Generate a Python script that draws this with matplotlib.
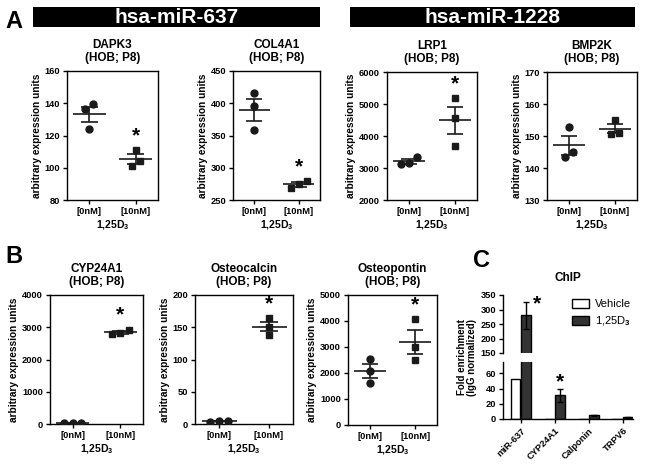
import numpy as np
import matplotlib
matplotlib.use('Agg')
import matplotlib.pyplot as plt
from matplotlib.patches import Rectangle

plt.rcParams['font.family'] = ['Liberation Sans', 'DejaVu Sans']
plt.rcParams['font.weight'] = 'bold'
plt.rcParams['axes.labelweight'] = 'bold'
plt.rcParams['axes.titleweight'] = 'bold'
plt.rcParams['axes.linewidth'] = 1.0
plt.rcParams['mathtext.fontset'] = 'custom'
plt.rcParams['mathtext.rm'] = 'Liberation Sans'
plt.rcParams['mathtext.bf'] = 'Liberation Sans:bold'

W, H = 645, 468

# x categories for the scatter panels
doses = ['[0nM]', '[10nM]']

# values (3 replicates each)
dapk3_0 = [139.3, 136.2, 124.0]
dapk3_10 = [111.0, 104.0, 101.0]
col4a1_0 = [416.0, 396.0, 358.0]
col4a1_10 = [280.0, 275.0, 268.0]
lrp1_0 = [3350.0, 3150.0, 3120.0]
lrp1_10 = [5190.0, 4570.0, 3700.0]
bmp2k_0 = [152.8, 145.0, 143.4]
bmp2k_10 = [155.1, 151.0, 150.7]
cyp24a1_0 = [22.0, 25.0, 20.0]
cyp24a1_10 = [2930.0, 2810.0, 2785.0]
osteocalcin_0 = [4.0, 4.2, 3.8]
osteocalcin_10 = [164.0, 151.0, 138.0]
osteopontin_0 = [2526.0, 2090.0, 1603.0]
osteopontin_10 = [4064.0, 3013.0, 2500.0]

# ChIP panel
chip_targets = ['miR-637', 'CYP24A1', 'Calponin', 'TRPV6']
chip_vehicle = [53.0, 0.4, 0.3, 0.3]
chip_d3 = [280.0, 31.0, 5.0, 2.0]
chip_d3_err = [46.0, 8.0, 0.4, 0.3]

fig = plt.figure(figsize=(W / 100, H / 100), dpi=100)
ink = '#1a1a1a'


def ax_px(l, t, r, b):
    return fig.add_axes([l / W, 1 - b / H, (r - l) / W, (b - t) / H])


def dodge(vals, span, step=0.18):
    # spread points that would sit on top of each other
    vals = np.asarray(vals)
    order = np.argsort(vals)
    clusters = [[order[0]]]
    for k in order[1:]:
        if abs(vals[k] - vals[clusters[-1][-1]]) < 0.06 * span:
            clusters[-1].append(k)
        else:
            clusters.append([k])
    offs = np.zeros(len(vals))
    for c in clusters:
        n = len(c)
        offs[c] = (np.arange(n) - (n - 1) / 2) * step
    return offs


def scatter_panel(box, title, d0, d10, ylim, step, star=True):
    ax = ax_px(*box)
    span = ylim[1] - ylim[0]
    for xi, vals, mk in [(0, d0, 'o'), (1, d10, 's')]:
        vals = np.asarray(vals)
        xs = xi + dodge(vals, span)
        ax.plot(xs, vals, linestyle='none', marker=mk, ms=5, color=ink, zorder=3)
        m = vals.mean()
        sem = vals.std(ddof=1) / np.sqrt(len(vals))
        ax.hlines(m, xi - 0.35, xi + 0.35, color=ink, lw=1.2, zorder=2)
        ax.vlines(xi, m - sem, m + sem, color=ink, lw=1.2, zorder=2)
        ax.hlines([m - sem, m + sem], xi - 0.18, xi + 0.18, color=ink, lw=1.2, zorder=2)
    if star:
        ax.text(1, max(d10) + 0.11 * span, '*', ha='center', va='center', fontsize=15)
    ax.set_xlim(-0.48, 1.48)
    ax.set_ylim(*ylim)
    ax.set_yticks(np.arange(ylim[0], ylim[1] + step / 2, step))
    ax.set_xticks([0, 1])
    ax.set_xticklabels(doses)
    ax.tick_params(labelsize=6.7, length=3, width=1, pad=2)
    ax.set_xlabel('1,25D$_\\mathbf{3}$', fontsize=7.5, labelpad=2)
    ax.set_ylabel('arbitrary expression units', fontsize=7.3, labelpad=2)
    ax.set_title(title + '\n(HOB; P8)', fontsize=8.5, pad=7, linespacing=1.15)
    return ax


scatter_panel((67, 71, 158, 200), 'DAPK3', dapk3_0, dapk3_10, (80, 160), 20)
scatter_panel((233, 71, 320, 200), 'COL4A1', col4a1_0, col4a1_10, (250, 450), 50)
scatter_panel((387, 72, 477, 200), 'LRP1', lrp1_0, lrp1_10, (2000, 6000), 1000)
scatter_panel((547, 72, 637, 200), 'BMP2K', bmp2k_0, bmp2k_10, (130, 170), 10, star=False)
scatter_panel((50, 295, 143, 424), 'CYP24A1', cyp24a1_0, cyp24a1_10, (0, 4000), 1000)
scatter_panel((195, 295, 293, 424), 'Osteocalcin', osteocalcin_0, osteocalcin_10, (0, 200), 50)
scatter_panel((348, 295, 437, 425), 'Osteopontin', osteopontin_0, osteopontin_10, (0, 5000), 1000)

# banners
for l, r, txt in [(33, 320, 'hsa-miR-637'), (350, 635, 'hsa-miR-1228')]:
    fig.patches.append(Rectangle((l / W, 1 - 27 / H), (r - l) / W, 20 / H,
                                 transform=fig.transFigure, facecolor='black', edgecolor='none'))
    fig.text((l + r) / 2 / W, 1 - 17.5 / H, txt, color='white', fontsize=15,
             ha='center', va='center')

fig.text(5 / W, 1 - 28 / H, 'A', fontsize=17, va='baseline')
fig.text(5 / W, 1 - 263 / H, 'B', fontsize=17, va='baseline')
fig.text(473 / W, 1 - 267 / H, 'C', fontsize=17, va='baseline')

# ChIP broken-axis bar chart
ax_top = ax_px(503, 295, 633, 353)
ax_bot = ax_px(503, 362, 633, 419)
x = np.arange(len(chip_targets))
bw = 0.29
for ax in (ax_top, ax_bot):
    ax.bar(x - 0.16, chip_vehicle, bw, color='white', edgecolor='black', lw=1, label='Vehicle')
    ax.bar(x + 0.16, chip_d3, bw, color='#333333', edgecolor='black', lw=1, label='1,25D$_3$',
           yerr=chip_d3_err, error_kw=dict(ecolor='black', elinewidth=1, capsize=2.5, capthick=1))
    ax.set_xlim(-0.53, 3.3)
    for s in ['top', 'right']:
        ax.spines[s].set_visible(False)
    ax.tick_params(labelsize=6.7, length=3, width=1, pad=2)
ax_top.set_ylim(150, 350)
ax_top.set_yticks(np.arange(150, 351, 50))
ax_top.spines['bottom'].set_visible(False)
ax_top.set_xticks([])
ax_bot.set_ylim(0, 75)
ax_bot.set_yticks([0, 20, 40, 60])
ax_bot.set_xticks(x)
ax_bot.set_xticklabels(chip_targets, rotation=45, ha='right', rotation_mode='anchor')
ax_top.text(x[0] + 0.16 + 0.3, chip_d3[0] + chip_d3_err[0] - 8, '*', fontsize=15, ha='center', va='center')
ax_bot.text(x[1] + 0.16, chip_d3[1] + chip_d3_err[1] + 10, '*', fontsize=15, ha='center', va='center')
ax_top.set_title('ChIP', fontsize=8.5, pad=10)
ax_top.legend(loc='upper right', bbox_to_anchor=(1.06, 1.1), frameon=False,
              prop={'size': 8, 'weight': 'normal'}, handlelength=1.5, handleheight=0.8,
              labelspacing=0.45, handletextpad=0.5)
fig.text(467 / W, 1 - 357 / H, 'Fold enrichment\n(IgG normalized)', rotation=90,
         ha='center', va='center', fontsize=7, linespacing=1.1)

fig.savefig('out.png', dpi=100)
